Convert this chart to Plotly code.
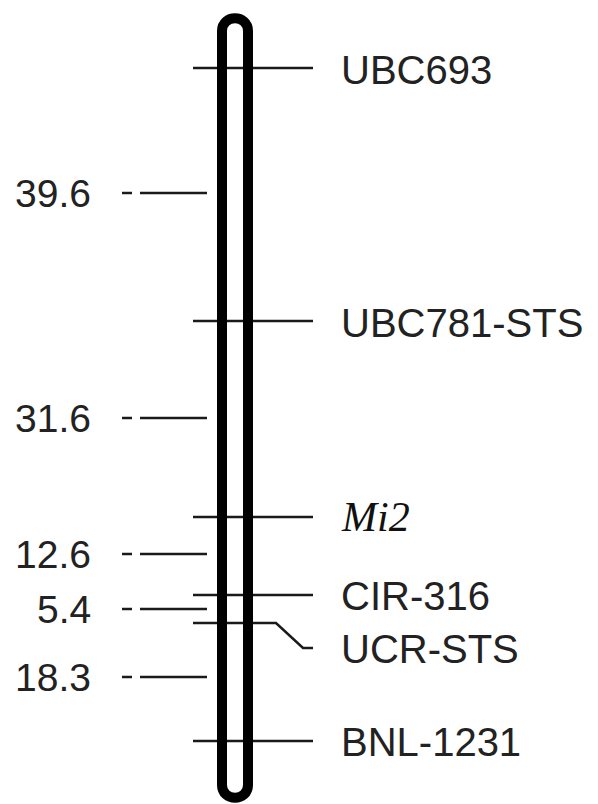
import plotly.graph_objects as go

# Marker names and their drawn map positions (vertical, top -> bottom)
markers = ["UBC693", "UBC781-STS", "<i>Mi2</i>", "CIR-316", "UCR-STS", "BNL-1231"]
marker_pos = [68, 321, 517, 595, 623, 741]
label_pos = [70, 323, 517, 596, 649, 742]

# Interval distances (cM) and where they are drawn
distances = ["39.6", "31.6", "12.6", "5.4", "18.3"]
distance_pos = [193, 418, 554, 609, 677]

# Chromosome extent
chrom_top, chrom_bottom = 18, 798
chrom_left, chrom_right = 222, 248

fig = go.Figure()

# Marker lines across the chromosome
mx, my = [], []
for name, p in zip(markers, marker_pos):
    if name == "UCR-STS":
        lp = label_pos[markers.index(name)]
        mx += [193, 276, 303, 313, None]
        my += [p, p, lp - 1, lp - 1, None]
    else:
        mx += [193, 313, None]
        my += [p, p, None]
fig.add_trace(go.Scatter(x=mx, y=my, mode="lines",
                         line=dict(color="#1a1a1a", width=2.5),
                         hoverinfo="skip", showlegend=False))

# Distance ticks on the left (short dash + line)
dx, dy = [], []
for p in distance_pos:
    dx += [122, 132, None, 140, 207, None]
    dy += [p, p, None, p, p, None]
fig.add_trace(go.Scatter(x=dx, y=dy, mode="lines",
                         line=dict(color="#1a1a1a", width=2.5),
                         hoverinfo="skip", showlegend=False))

# Chromosome outline
r = (chrom_right - chrom_left) / 2
path = (f"M {chrom_left},{chrom_top + r} C {chrom_left},{chrom_top - 4} {chrom_right},{chrom_top - 4} "
        f"{chrom_right},{chrom_top + r} "
        f"L {chrom_right},{chrom_bottom - r} C {chrom_right},{chrom_bottom + 4} {chrom_left},{chrom_bottom + 4} "
        f"{chrom_left},{chrom_bottom - r} Z")
fig.add_shape(type="path", path=path, xref="x", yref="y",
              line=dict(color="black", width=10), fillcolor="rgba(0,0,0,0)")

# Marker labels
for name, p in zip(markers, label_pos):
    if "<i>" in name:
        font = dict(family="Liberation Serif, Times New Roman, serif", size=42, color="#111")
    else:
        font = dict(family="Liberation Sans, Arial, sans-serif", size=40, color="#222")
    fig.add_annotation(x=339, y=p, text=name, showarrow=False,
                       xanchor="left", yanchor="middle", font=font)

# Distance labels
for d, p in zip(distances, distance_pos):
    fig.add_annotation(x=93, y=p, text=d, showarrow=False,
                       xanchor="right", yanchor="middle",
                       font=dict(family="Liberation Sans, Arial, sans-serif", size=39, color="#222"))

fig.update_xaxes(range=[0, 598], visible=False, fixedrange=True)
fig.update_yaxes(range=[804, 0], visible=False, fixedrange=True)
fig.update_layout(width=598, height=804, margin=dict(l=0, r=0, t=0, b=0),
                  plot_bgcolor="white", paper_bgcolor="white")

fig.write_html("out.html")
